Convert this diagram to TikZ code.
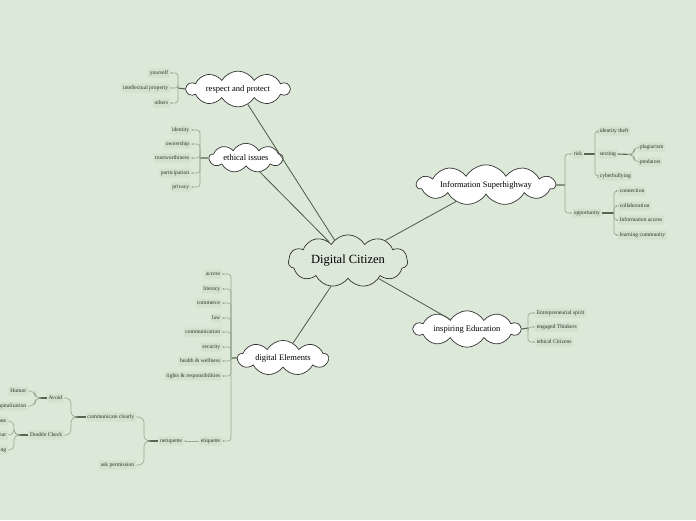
\documentclass[tikz,border=0pt]{standalone}
\usepackage{fontspec}
\setmainfont{Liberation Serif}
\usetikzlibrary{shapes.symbols,arrows.meta}
\definecolor{bgc}{HTML}{DCE8D8}
\definecolor{leafc}{HTML}{D2E2CE}
\definecolor{brkc}{HTML}{98AC95}
\definecolor{stemc}{HTML}{56674F}
\definecolor{linec}{HTML}{4C5A49}
\definecolor{txtc}{HTML}{2E342C}
\tikzset{
  cloudnode/.style={cloud, cloud ignores aspect, cloud puffs=10, cloud puff arc=120, draw=black!80, line width=0.7pt, fill=white, inner xsep=5pt, inner ysep=2.5pt, font=\fontsize{8.5}{9}\selectfont, text=black},
  leaf/.style={fill=leafc, rounded corners=1pt, inner sep=1.6pt, minimum height=9pt, font=\fontsize{5.6}{6.5}\selectfont, text=txtc},
  mainline/.style={draw=linec, line width=0.8pt},
  stemline/.style={draw=stemc, line width=1.1pt},
  brk/.style={draw=brkc, line width=0.7pt, rounded corners=3pt, -{Stealth[length=2.2pt,width=2pt]}},
  brace/.style={draw=brkc, line width=0.7pt, rounded corners=5pt},
}
\begin{document}
\begin{tikzpicture}[x=1pt,y=-1pt]
\fill[bgc] (0,0) rectangle (696,520);
\useasboundingbox (0,0) rectangle (696,520);
\clip (0,0) rectangle (696,520);

% main clouds
\node[cloudnode, fill=bgc, cloud puffs=11, inner xsep=5pt, inner ysep=6.5pt, font=\fontsize{12.5}{14}\selectfont] (dc) at (348,261) {Digital Citizen};
\node[cloudnode] (rp) at (238,89) {respect and protect};
\node[cloudnode, cloud puffs=9, inner xsep=4pt] (ei) at (246,158) {ethical issues};
\node[cloudnode, cloud puffs=11, inner xsep=4pt] (is) at (486,185) {Information Superhighway};
\node[cloudnode] (ie) at (467,329) {inspiring Education};
\node[cloudnode, cloud puffs=9] (de) at (283,358) {digital Elements};

\draw[mainline] (dc) -- (rp);
\draw[mainline] (dc) -- (ei);
\draw[mainline] (dc) -- (is);
\draw[mainline] (dc) -- (ie);
\draw[mainline] (dc) -- (de);

% respect and protect
\node[leaf, anchor=east] (yo) at (170,73) {yourself};
\node[leaf, anchor=east] (ip) at (170,88) {intellectual property};
\node[leaf, anchor=east] (ot) at (170,103) {others};
\draw[stemline] (rp.west) -- (178,88) coordinate (rpB);
\foreach \c in {yo,ip,ot} \draw[brk] (rpB) |- (\c.east);

% ethical issues
\node[leaf, anchor=east] (e1) at (191,130) {identity};
\node[leaf, anchor=east] (e2) at (191,144) {ownership};
\node[leaf, anchor=east] (e3) at (191,158) {trustworthiness};
\node[leaf, anchor=east] (e4) at (191,173) {participation};
\node[leaf, anchor=east] (e5) at (191,187) {privacy};
\draw[stemline] (ei.west) -- (200,158) coordinate (eiB);
\foreach \c in {e1,e2,e3,e4,e5} \draw[brk] (eiB) |- (\c.east);

% information superhighway
\node[leaf, anchor=west] (risk) at (572,154) {risk};
\node[leaf, anchor=west] (opp) at (572,213) {opportunity};
\draw[stemline] (is.east) -- (565,185) coordinate (isB);
\foreach \c in {risk,opp} \draw[brk] (isB) |- (\c.west);

\node[leaf, anchor=west] (r1) at (598,131) {identity theft};
\node[leaf, anchor=west] (r2) at (598,154) {sexting};
\node[leaf, anchor=west] (r3) at (598,176) {cyberbullying};
\draw[stemline] (risk.east) -- (595,154) coordinate (riskB);
\foreach \c in {r1,r3} \draw[brk] (riskB) |- (\c.west);

\node[leaf, anchor=west] (s1) at (638,147) {plagiarism};
\node[leaf, anchor=west] (s2) at (638,162) {predators};
\draw[stemline] (r2.east) -- (632,154.5) coordinate (sxB);
\foreach \c in {s1,s2} \draw[brace] (sxB) -- ++(2,0) |- (\c.west);

\node[leaf, anchor=west] (o1) at (618,191) {connection};
\node[leaf, anchor=west] (o2) at (618,206) {collaboration};
\node[leaf, anchor=west] (o3) at (618,220) {Information access};
\node[leaf, anchor=west] (o4) at (618,235) {learning community};
\draw[stemline] (opp.east) -- (614,213) coordinate (oppB);
\foreach \c in {o1,o2,o3,o4} \draw[brk] (oppB) |- (\c.west);

% inspiring education
\node[leaf, anchor=west] (i1) at (535,313) {Entrepreneurial spirit};
\node[leaf, anchor=west] (i2) at (535,327) {engaged Thinkers};
\node[leaf, anchor=west] (i3) at (535,342) {ethical Citizens};
\draw[stemline] (ie.east) -- (528,328) coordinate (ieB);
\foreach \c in {i1,i2,i3} \draw[brk] (ieB) |- (\c.west);

% digital elements
\node[leaf, anchor=east] (d1) at (222,274) {access};
\node[leaf, anchor=east] (d2) at (222,289) {literacy};
\node[leaf, anchor=east] (d3) at (222,303) {commerce};
\node[leaf, anchor=east] (d4) at (222,318) {law};
\node[leaf, anchor=east] (d5) at (222,332) {communication};
\node[leaf, anchor=east] (d6) at (222,347) {security};
\node[leaf, anchor=east] (d7) at (222,361) {health \& wellness};
\node[leaf, anchor=east] (d8) at (222,376) {rights \& responsibilities};
\node[leaf, anchor=east] (d9) at (222,441) {etiquette};
\draw[stemline] (de.west) -- (231,358) coordinate (deB);
\foreach \c in {d1,d2,d3,d4,d5,d6,d7,d8,d9} \draw[brk] (deB) |- (\c.east);

% netiquette subtree
\node[leaf, anchor=east] (net) at (184,441) {netiquette};
\draw[brk] (d9.west) -- (net.east);
\node[leaf, anchor=east] (cc) at (136,417) {communicate clearly};
\node[leaf, anchor=east] (ap) at (136,465) {ask permission};
\draw[stemline] (net.west) -- (147,441) coordinate (netB);
\foreach \c in {cc,ap} \draw[brace] (netB) -- ++(-3,0) |- (\c.east);

\node[leaf, anchor=east] (av) at (64,398) {Avoid};
\node[leaf, anchor=east] (dch) at (64,435) {Double Check};
\draw[stemline] (cc.west) -- (74,417) coordinate (ccB);
\foreach \c in {av,dch} \draw[brace] (ccB) -- ++(-3,0) |- (\c.east);

\node[leaf, anchor=east] (hu) at (28,391) {Humor};
\node[leaf, anchor=east] (ca) at (28,406) {Capitalization};
\draw[stemline] (av.west) -- (38,398) coordinate (avB);
\foreach \c in {hu,ca} \draw[brace] (avB) -- ++(-3,0) |- (\c.east);

\node[leaf, anchor=east] (to) at (8,421) {Tone};
\node[leaf, anchor=east] (gr) at (8,435) {Grammar};
\node[leaf, anchor=east] (sp) at (8,450) {Spelling};
\draw[stemline] (dch.west) -- (17,435) coordinate (dchB);
\foreach \c in {to,gr,sp} \draw[brace] (dchB) -- ++(-3,0) |- (\c.east);
\end{tikzpicture}
\end{document}
